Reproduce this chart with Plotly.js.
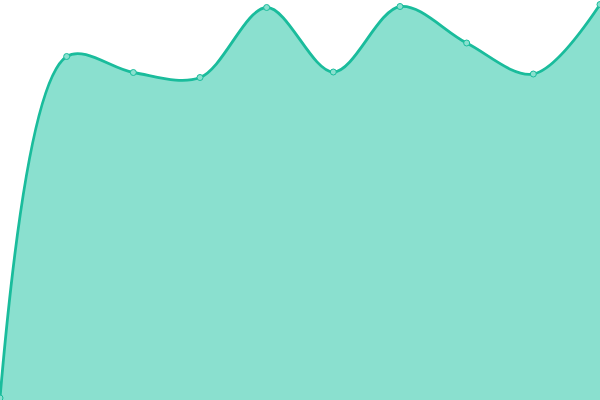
<!DOCTYPE html>
<html><head><meta charset="utf-8">
<script src="https://cdn.plot.ly/plotly-3.0.1.min.js"></script>
<style>html,body{margin:0;padding:0;background:#fff}#c{width:600px;height:400px}</style>
</head><body><div id="c"></div>
<script>
const xs = [0, 1, 2, 3, 4, 5, 6, 7, 8, 9];
const values = [2, 343.5, 327.5, 322.5, 392.5, 328, 393.5, 357, 326, 395.5];
Plotly.newPlot('c', [{
  x: xs, y: values, type: 'scatter', mode: 'lines+markers',
  fill: 'tozeroy', fillcolor: '#8ae0cf',
  line: {shape: 'spline', smoothing: 0.95, color: '#1abc9c', width: 2.8},
  marker: {size: 6, color: '#8ae0cf', line: {color: '#1abc9c', width: 1}},
  hoverinfo: 'none'
}], {
  width: 600, height: 400,
  margin: {l: 0, r: 0, t: 0, b: 0},
  paper_bgcolor: '#fff', plot_bgcolor: '#fff',
  showlegend: false,
  xaxis: {range: [0, 9], visible: false, fixedrange: true},
  yaxis: {range: [0, 400], visible: false, fixedrange: true}
}, {displayModeBar: false, staticPlot: true});
</script></body></html>
